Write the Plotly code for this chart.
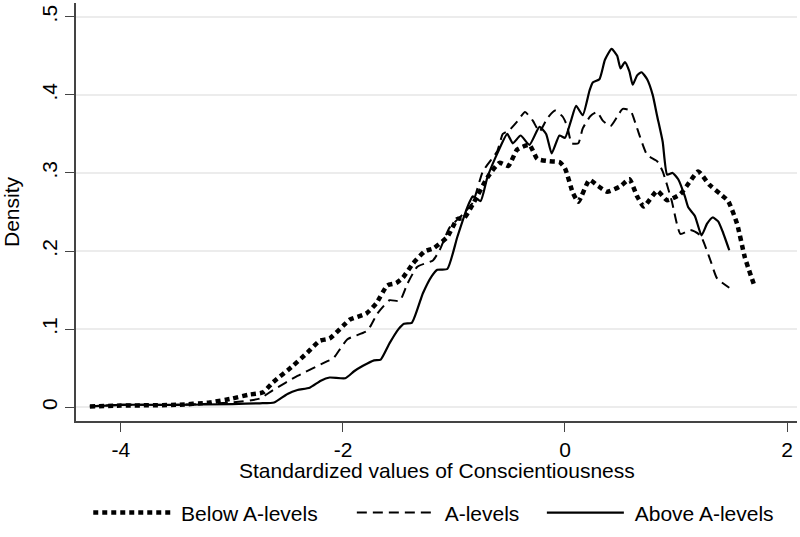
import plotly.graph_objects as go

# Below A-levels (dotted)
below_x = [-4.28, -4.0, -3.5, -3.2, -3.0, -2.85, -2.72, -2.63, -2.45, -2.32, -2.21, -2.12,
           -2.0, -1.94, -1.79, -1.70, -1.60, -1.52, -1.46, -1.37, -1.26, -1.19, -1.06,
           -0.97, -0.91, -0.83, -0.70, -0.59, -0.51, -0.43, -0.32, -0.25, -0.14, -0.05,
           0.0, 0.07, 0.12, 0.22, 0.30, 0.38, 0.50, 0.58, 0.65, 0.71, 0.83, 0.92, 1.04,
           1.12, 1.20, 1.30, 1.40, 1.47, 1.55, 1.62, 1.70]
below_y = [0.001, 0.002, 0.003, 0.006, 0.011, 0.016, 0.019, 0.032, 0.053, 0.070, 0.085, 0.088,
           0.104, 0.112, 0.120, 0.133, 0.156, 0.159, 0.166, 0.184, 0.200, 0.203, 0.218,
           0.241, 0.242, 0.260, 0.294, 0.313, 0.309, 0.330, 0.336, 0.318, 0.315, 0.314,
           0.306, 0.275, 0.263, 0.291, 0.283, 0.276, 0.283, 0.292, 0.270, 0.257, 0.277, 0.265, 0.273,
           0.288, 0.302, 0.285, 0.273, 0.264, 0.235, 0.192, 0.158]

# A-levels (dashed)
alev_x = [-4.28, -4.0, -3.5, -3.0, -2.75, -2.63, -2.41, -2.14, -2.09, -1.96, -1.78, -1.69,
          -1.58, -1.49, -1.42, -1.33, -1.19, -1.13, -1.04, -0.92, -0.83, -0.74, -0.61,
          -0.56, -0.50, -0.43, -0.36, -0.29, -0.23, -0.16, -0.09, -0.02, 0.02, 0.06, 0.12,
          0.16, 0.23, 0.29, 0.34, 0.41, 0.47, 0.52, 0.59, 0.65, 0.74, 0.83, 0.88, 0.96,
          1.04, 1.13, 1.22, 1.31, 1.37, 1.48]
alev_y = [0.001, 0.003, 0.003, 0.006, 0.011, 0.022, 0.040, 0.059, 0.062, 0.087, 0.098, 0.120,
          0.137, 0.136, 0.158, 0.180, 0.188, 0.201, 0.230, 0.247, 0.262, 0.302, 0.328,
          0.350, 0.355, 0.366, 0.378, 0.367, 0.353, 0.370, 0.380, 0.372, 0.360, 0.338, 0.338,
          0.357, 0.373, 0.378, 0.367, 0.360, 0.372, 0.382, 0.380, 0.357, 0.323, 0.315, 0.302, 0.265,
          0.222, 0.227, 0.220, 0.188, 0.165, 0.153]

# Above A-levels (solid)
above_x = [-4.28, -4.0, -3.5, -3.0, -2.75, -2.62, -2.50, -2.41, -2.30, -2.20, -2.12, -1.98,
           -1.90, -1.82, -1.72, -1.66, -1.58, -1.50, -1.45, -1.38, -1.28, -1.20, -1.15,
           -1.06, -0.97, -0.88, -0.83, -0.76, -0.70, -0.60, -0.52, -0.47, -0.40, -0.32,
           -0.23, -0.17, -0.12, -0.05, 0.0, 0.05, 0.10, 0.16, 0.22, 0.25, 0.31, 0.36, 0.42,
           0.47, 0.50, 0.54, 0.58, 0.61, 0.65, 0.69, 0.74, 0.79, 0.83, 0.88, 0.92, 0.97,
           1.02, 1.08, 1.11, 1.17, 1.23, 1.28, 1.33, 1.38, 1.42, 1.48]
above_y = [0.001, 0.003, 0.003, 0.004, 0.005, 0.006, 0.017, 0.022, 0.025, 0.034, 0.038, 0.037,
           0.046, 0.053, 0.060, 0.061, 0.082, 0.100, 0.107, 0.108, 0.146, 0.168, 0.176,
           0.177, 0.218, 0.256, 0.270, 0.264, 0.294, 0.328, 0.350, 0.338, 0.348, 0.336,
           0.359, 0.350, 0.325, 0.348, 0.345, 0.365, 0.386, 0.374, 0.405, 0.416, 0.420, 0.445, 0.459,
           0.450, 0.434, 0.442, 0.430, 0.413, 0.425, 0.429, 0.420, 0.400, 0.373, 0.340, 0.298, 0.300,
           0.292, 0.270, 0.256, 0.245, 0.220, 0.235, 0.243, 0.238, 0.225, 0.201]

x_ticks = [-4, -2, 0, 2]
y_ticks = [0, 0.1, 0.2, 0.3, 0.4, 0.5]
y_tick_labels = ["0", ".1", ".2", ".3", ".4", ".5"]
x_title = "Standardized values of Conscientiousness"
y_title = "Density"

NB = "\u00a0"
FONT = "Liberation Sans, Arial, Helvetica, sans-serif"
FS = 21

fig = go.Figure()
fig.add_trace(go.Scatter(x=below_x, y=below_y, mode="lines",
                         name=NB + "Below A-levels" + NB * 5,
                         line=dict(color="black", width=4.5, dash="5px,4px", shape="spline", smoothing=0.5)))
fig.add_trace(go.Scatter(x=alev_x, y=alev_y, mode="lines",
                         name=NB + "A-levels" + NB * 3,
                         line=dict(color="black", width=2, dash="10px,6px", shape="spline", smoothing=0.5)))
fig.add_trace(go.Scatter(x=above_x, y=above_y, mode="lines",
                         name=NB + "Above A-levels",
                         line=dict(color="black", width=2.2, shape="spline", smoothing=0.5)))

fig.update_layout(
    width=800, height=537,
    margin=dict(l=76, r=3, t=3, b=111),
    paper_bgcolor="white", plot_bgcolor="white",
    font=dict(family=FONT, size=FS, color="black"),
    showlegend=True,
    legend=dict(orientation="h", x=0.017, xanchor="left", y=-0.22, yanchor="middle",
                itemwidth=77, font=dict(size=FS), bgcolor="rgba(0,0,0,0)",
                traceorder="normal"),
    xaxis=dict(range=[-4.405, 2.09], tickvals=x_ticks, ticktext=[str(v) for v in x_ticks],
               showgrid=False, zeroline=False, showline=True, linecolor="#444", linewidth=1.5,
               ticks="outside", ticklen=9, tickwidth=1.2, tickcolor="#444",
               tickfont=dict(size=FS)),
    yaxis=dict(range=[-0.0177, 0.5177], tickvals=y_ticks, ticktext=y_tick_labels,
               showgrid=True, gridcolor="#ececec", gridwidth=1.5, zeroline=False,
               showline=True, linecolor="#444", linewidth=1.5,
               ticks="outside", ticklen=9, tickwidth=1.2, tickcolor="#444",
               tickangle=-90, tickfont=dict(size=FS), ticklabelstandoff=0,
               title=dict(text=y_title, standoff=16, font=dict(size=FS))),
    annotations=[dict(text=x_title, xref="paper", yref="paper", x=0.5, y=-0.085,
                      xanchor="center", yanchor="top", showarrow=False,
                      font=dict(size=FS))],
)

fig.write_html("out.html", config={"displayModeBar": False},
               post_script="document.body.style.margin='0';document.body.style.padding='0';")
